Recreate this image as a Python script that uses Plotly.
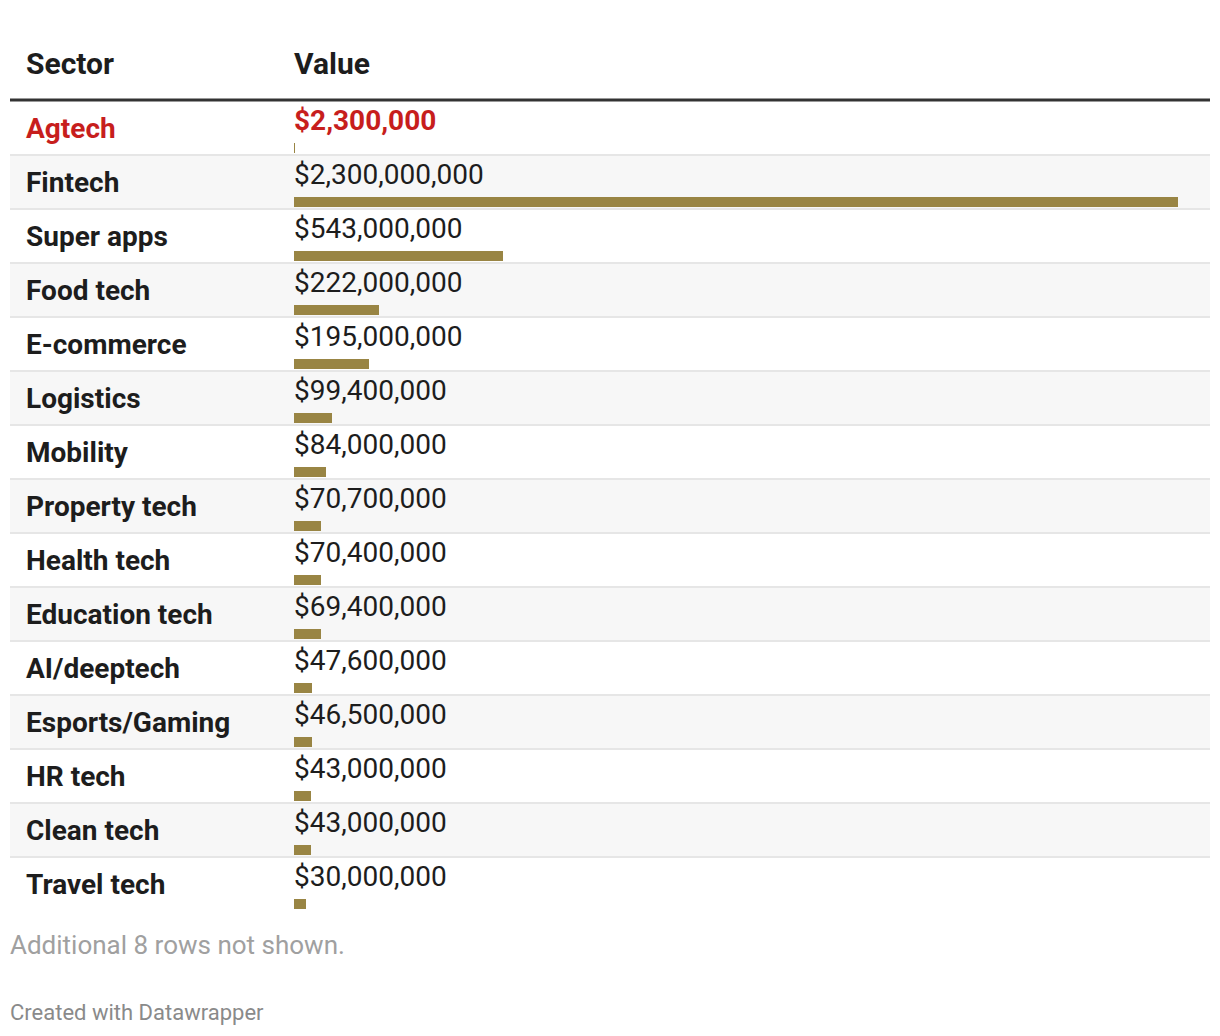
import plotly.graph_objects as go

# ---- data ----
sectors = ["Agtech", "Fintech", "Super apps", "Food tech", "E-commerce", "Logistics",
           "Mobility", "Property tech", "Health tech", "Education tech", "AI/deeptech",
           "Esports/Gaming", "HR tech", "Clean tech", "Travel tech"]
values = [2_300_000, 2_300_000_000, 543_000_000, 222_000_000, 195_000_000, 99_400_000,
          84_000_000, 70_700_000, 70_400_000, 69_400_000, 47_600_000,
          46_500_000, 43_000_000, 43_000_000, 30_000_000]
highlighted = ["Agtech"]
column_headers = ["Sector", "Value"]
note_text = "Additional 8 rows not shown."
credit_text = "Created with Datawrapper"

# ---- layout constants (pixels) ----
W, H = 1220, 1036
TABLE_L, TABLE_R = 10, 1210
HEADER_LINE_Y = 100
ROW_TOP0 = 101
ROW_H = 54
LABEL_X = 24
VALUE_X = 292
FOOT_X = 8
BAR_X0, BAR_X1 = 294, 1178

BAR_COLOR = "#998544"
RED = "#c71e1d"
TEXT = "#1d1d1d"
FONT = "Roboto"

fig = go.Figure()

row_tops = [ROW_TOP0 + i * ROW_H for i in range(len(sectors))]
bar_y = [t + 46.5 for t in row_tops]

shapes = []
for i, t in enumerate(row_tops):
    if i % 2 == 1:
        shapes.append(dict(type="rect", xref="paper", yref="y",
                           x0=TABLE_L / W, x1=TABLE_R / W, y0=t, y1=t + ROW_H,
                           fillcolor="#f7f7f7", line=dict(width=0), layer="below"))
for t in row_tops[1:]:
    shapes.append(dict(type="line", xref="paper", yref="y",
                       x0=TABLE_L / W, x1=TABLE_R / W, y0=t, y1=t,
                       line=dict(color="#e6e6e6", width=2), layer="below"))
shapes.append(dict(type="line", xref="paper", yref="y",
                   x0=TABLE_L / W, x1=TABLE_R / W, y0=HEADER_LINE_Y, y1=HEADER_LINE_Y,
                   line=dict(color="#333333", width=3)))

fig.add_trace(go.Bar(
    x=values, y=bar_y, orientation="h", width=10,
    marker=dict(color=BAR_COLOR, line=dict(width=0)),
    hoverinfo="skip", showlegend=False,
))

annotations = []
for txt, x in zip(column_headers, [LABEL_X, VALUE_X]):
    annotations.append(dict(text=f"<b>{txt}</b>", x=x / W, y=63, xref="paper", yref="y",
                            xanchor="left", yanchor="middle", showarrow=False,
                            font=dict(family=FONT, size=30, color=TEXT)))
for s, v, t in zip(sectors, values, row_tops):
    hl = s in highlighted
    col = RED if hl else TEXT
    annotations.append(dict(text=f"<b>{s}</b>", x=LABEL_X / W, y=t + 27.5, xref="paper", yref="y",
                            xanchor="left", yanchor="middle", showarrow=False,
                            font=dict(family=FONT, size=28, color=col)))
    vt = f"${v:,.0f}"
    if hl:
        vt = f"<b>{vt}</b>"
    annotations.append(dict(text=vt, x=VALUE_X / W, y=t + 19.5, xref="paper", yref="y",
                            xanchor="left", yanchor="middle", showarrow=False,
                            font=dict(family=FONT, size=28, color=col)))
annotations.append(dict(text=note_text, x=FOOT_X / W, y=945, xref="paper", yref="y",
                        xanchor="left", yanchor="middle", showarrow=False,
                        font=dict(family=FONT, size=26, color="#a0a0a0")))
annotations.append(dict(text=credit_text, x=FOOT_X / W, y=1012, xref="paper", yref="y",
                        xanchor="left", yanchor="middle", showarrow=False,
                        font=dict(family=FONT, size=22, color="#8a8a8a")))

fig.update_layout(
    width=W, height=H,
    margin=dict(l=0, r=0, t=0, b=0),
    paper_bgcolor="white", plot_bgcolor="rgba(0,0,0,0)",
    xaxis=dict(domain=[BAR_X0 / W, BAR_X1 / W], range=[0, max(values)], visible=False, fixedrange=True),
    yaxis=dict(domain=[0, 1], range=[H, 0], visible=False, fixedrange=True),
    shapes=shapes, annotations=annotations,
    bargap=0,
)

fig.write_html("out.html", config={"displayModeBar": False},
               post_script="document.body.style.margin='0';document.body.style.overflow='hidden';")
